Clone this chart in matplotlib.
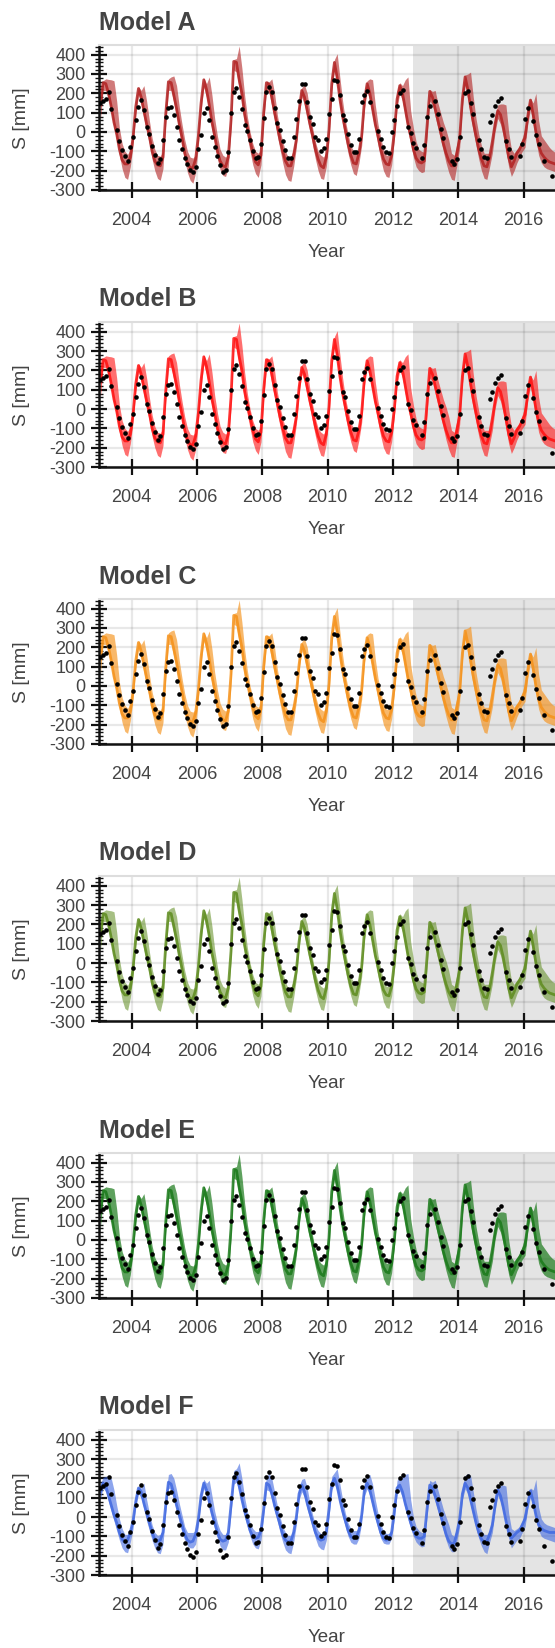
import numpy as np
import matplotlib
matplotlib.use('Agg')
import matplotlib.pyplot as plt
from matplotlib.ticker import MultipleLocator, FixedLocator

plt.rcParams['font.family'] = ['Liberation Sans', 'DejaVu Sans']
plt.rcParams['axes.unicode_minus'] = False

nan = np.nan
years = list(range(2003, 2017))

# Observed storage (black dots), one row per year (Jan..Dec)
obs_rows = [
    [148, 160, 170, 205, 120, nan, 10, -45, -95, -125, -150, -75],
    [-25, 62, 130, 168, 115, 25, -12, -72, -120, -160, -140, -42],
    [80, 123, 130, 88, 28, -42, -90, -135, -165, -195, -205, -180],
    [-86, -15, 100, 126, 62, -24, -79, -124, -170, -205, -196, -101],
    [100, 209, 227, 180, 120, 37, 7, -41, -100, -136, -128, -62],
    [71, 209, 232, 206, 123, 49, 8, -46, -93, -136, -136, -24],
    [68, 158, 247, 247, 153, 76, 40, -24, -41, -98, -84, -35],
    [95, 170, 270, 262, 192, 90, 62, -8, -65, -105, -105, -35],
    [155, 192, 210, 153, nan, nan, 7, -38, -75, -101, -108, 0],
    [63, 135, 200, 218, nan, 28, -3, -58, -84, nan, -136, -67],
    [77, 137, nan, 158, 92, 18, -32, nan, nan, -148, -168, -140],
    [-25, nan, 200, 210, 149, 94, nan, -41, -89, -127, -136, 54],
    [89, 132, 158, 175, nan, -45, -86, -131, nan, nan, -124, -60],
    [66, 123, nan, 57, -18, -60, nan, -150, nan, nan, -230, nan],
]

# Models A-E: median line and uncertainty band
line_rows = [
    [140, 255, 250, 200, 130, 50, -10, -90, -145, -165, -165, -130],
    [-30, 130, 225, 180, 110, 40, -20, -100, -150, -170, -175, -130],
    [90, 260, 255, 190, 120, 40, -30, -110, -160, -185, -185, -140],
    [-20, 150, 270, 220, 140, 50, -20, -100, -150, -175, -180, -130],
    [60, 365, 360, 270, 200, 90, 20, -40, -110, -155, -170, -120],
    [100, 255, 245, 180, 100, 30, -40, -100, -150, -175, -175, -120],
    [-40, 110, 215, 180, 110, 40, -20, -90, -140, -175, -185, -130],
    [10, 250, 360, 280, 170, 80, 10, -60, -120, -160, -165, -110],
    [-20, 160, 250, 200, 120, 40, -20, -90, -140, -165, -170, -120],
    [0, 170, 240, 200, 120, 40, -20, -90, -135, -155, -160, -150],
    [30, 210, 180, 120, 60, 0, -60, -110, -150, -175, -175, -110],
    [-30, 170, 285, 220, 130, 50, -20, -90, -140, -175, -180, -130],
    [-50, 40, 110, 90, 30, -50, -130, -180, -150, -110, -90, -60],
    [-30, 80, 165, 90, 0, -70, -110, -130, -145, -155, -160, -165],
]
upper_rows = [
    [190, 265, 275, 272, 270, 265, 160, 20, -60, -100, -115, -90],
    [10, 160, 235, 215, 240, 160, 60, -30, -90, -120, -125, -100],
    [150, 275, 285, 290, 240, 130, 40, -40, -100, -130, -135, -120],
    [30, 190, 280, 250, 285, 190, 70, -20, -90, -120, -130, -110],
    [110, 375, 380, 445, 330, 190, 80, 0, -60, -100, -110, -90],
    [150, 265, 260, 275, 200, 90, 10, -50, -100, -130, -125, -90],
    [10, 150, 230, 245, 200, 100, 20, -50, -100, -120, -130, -100],
    [60, 290, 375, 405, 280, 160, 60, -10, -70, -100, -100, -95],
    [30, 200, 265, 275, 270, 140, 40, -30, -90, -120, -120, -100],
    [50, 210, 255, 240, 270, 285, 110, 20, -50, -90, -100, -105],
    [70, 220, 210, 215, 150, 100, 50, 10, -40, -110, -120, -60],
    [20, 220, 295, 300, 310, 180, 70, -10, -70, -110, -110, -110],
    [-20, 90, 140, 145, 145, 140, 0, -90, -110, -90, -70, -30],
    [20, 130, 175, 150, 200, 60, -20, -40, -60, -80, -95, -105],
]
lower_rows = [
    [60, 215, 215, 170, 100, 20, -40, -120, -190, -235, -245, -180],
    [-70, 90, 190, 140, 70, 0, -60, -140, -200, -240, -250, -190],
    [40, 215, 215, 150, 80, 0, -70, -150, -210, -250, -265, -210],
    [-70, 110, 230, 180, 100, 10, -60, -140, -195, -225, -230, -180],
    [10, 320, 310, 220, 150, 40, -30, -100, -170, -215, -235, -170],
    [50, 215, 200, 130, 60, -20, -90, -160, -220, -250, -255, -180],
    [-80, 80, 180, 140, 70, 0, -70, -140, -200, -240, -245, -180],
    [-40, 210, 320, 240, 130, 40, -40, -110, -170, -215, -225, -160],
    [-70, 120, 210, 160, 80, 0, -70, -140, -200, -230, -235, -170],
    [-40, 130, 200, 160, 80, 0, -60, -130, -180, -200, -210, -205],
    [-30, 160, 140, 80, 20, -40, -100, -160, -210, -245, -250, -170],
    [-80, 130, 240, 170, 80, 0, -70, -140, -200, -240, -245, -180],
    [-110, 0, 70, 40, -20, -100, -180, -230, -200, -160, -130, -100],
    [-80, 40, 120, 40, -40, -120, -160, -180, -190, -195, -200, -205],
]

# Model F
line_f_rows = [
    [130, 175, 160, 110, 60, 10, -30, -80, -115, -130, -120, -80],
    [-20, 80, 150, 130, 70, 20, -30, -80, -115, -125, -120, -80],
    [60, 180, 170, 120, 60, 10, -40, -90, -120, -130, -125, -90],
    [-10, 110, 175, 140, 80, 20, -30, -80, -115, -125, -120, -80],
    [60, 200, 215, 160, 90, 30, -20, -70, -100, -110, -105, -70],
    [40, 175, 165, 120, 60, 10, -40, -90, -120, -130, -125, -80],
    [0, 120, 165, 130, 70, 20, -30, -80, -110, -120, -115, -75],
    [40, 170, 200, 160, 90, 30, -20, -70, -100, -110, -105, -70],
    [10, 140, 175, 140, 80, 20, -30, -80, -110, -120, -115, -80],
    [30, 150, 165, 130, 70, 20, -30, -70, -100, -110, -110, -100],
    [40, 165, 150, 110, 60, 10, -40, -90, -125, -140, -135, -80],
    [-10, 120, 175, 150, 90, 30, -30, -80, -115, -130, -125, -90],
    [-40, 60, 140, 110, 50, -20, -80, -110, -95, -80, -70, -40],
    [-10, 70, 135, 80, 10, -40, -60, -70, -75, -80, -80, -80],
]
upper_f_rows = [
    [170, 205, 210, 210, 200, 140, 60, -10, -60, -90, -90, -60],
    [10, 120, 160, 150, 175, 90, 20, -40, -80, -95, -90, -60],
    [110, 220, 225, 200, 140, 70, 10, -50, -80, -80, -80, -70],
    [30, 150, 195, 175, 190, 110, 30, -30, -70, -90, -90, -60],
    [100, 240, 250, 280, 200, 100, 30, -30, -60, -75, -75, -50],
    [90, 210, 225, 200, 130, 60, 0, -50, -80, -95, -95, -60],
    [40, 160, 195, 200, 150, 70, 10, -40, -70, -85, -85, -60],
    [80, 210, 230, 250, 170, 90, 20, -30, -60, -70, -70, -50],
    [50, 180, 215, 220, 170, 90, 20, -40, -70, -85, -85, -60],
    [70, 190, 210, 215, 220, 225, 90, 0, -50, -70, -80, -80],
    [90, 190, 180, 190, 140, 90, 40, 0, -40, -90, -100, -50],
    [30, 160, 215, 225, 215, 130, 40, -30, -70, -90, -90, -70],
    [0, 110, 160, 165, 165, 160, 20, -60, -70, -60, -50, -20],
    [30, 110, 150, 140, 195, 50, -10, -30, -40, -45, -50, -55],
]
lower_f_rows = [
    [90, 150, 130, 80, 30, -20, -70, -120, -160, -180, -185, -130],
    [-60, 50, 120, 100, 40, -20, -70, -120, -160, -185, -190, -140],
    [20, 150, 140, 90, 30, -30, -80, -120, -150, -160, -160, -140],
    [-50, 80, 145, 110, 50, -10, -60, -110, -150, -170, -170, -130],
    [20, 170, 180, 130, 60, 0, -50, -100, -140, -160, -165, -120],
    [0, 140, 135, 90, 30, -20, -80, -130, -170, -185, -190, -130],
    [-40, 90, 130, 100, 40, -10, -60, -110, -150, -165, -170, -120],
    [0, 140, 170, 130, 60, 0, -50, -100, -130, -140, -140, -110],
    [-30, 110, 145, 110, 50, -10, -60, -110, -135, -140, -140, -110],
    [-10, 120, 135, 100, 40, -10, -60, -100, -130, -145, -155, -150],
    [0, 135, 120, 80, 30, -20, -70, -120, -160, -180, -180, -120],
    [-50, 90, 145, 120, 60, 0, -60, -110, -150, -180, -190, -130],
    [-80, 30, 110, 80, 20, -50, -110, -160, -140, -120, -110, -80],
    [-50, 40, 105, 50, -20, -70, -100, -110, -115, -120, -125, -130],
]

model_names = ['Model A', 'Model B', 'Model C', 'Model D', 'Model E', 'Model F']
model_colors = ['#b22222', '#ff1010', '#f5921b', '#5e8c1e', '#1a7a1a', '#4169e1']
band_alphas = [0.6, 0.6, 0.65, 0.55, 0.7, 0.6]
forecast_start = 2012.6
x_ticks = [2004, 2006, 2008, 2010, 2012, 2014, 2016]


def flat(rows):
    return np.array(rows, dtype=float).ravel()


t = np.array([y + (m + 0.5) / 12.0 for y in years for m in range(12)])
obs = flat(obs_rows)
series = {
    'base': (flat(line_rows), flat(lower_rows), flat(upper_rows)),
    'f': (flat(line_f_rows), flat(lower_f_rows), flat(upper_f_rows)),
}

W, H = 555, 1648
fig = plt.figure(figsize=(W / 100, H / 100), dpi=100)
text_col = '#444444'
ax_left, ax_h, ax_top0, step = 99, 145, 45, 277.0

for k, name in enumerate(model_names):
    top = ax_top0 + k * step
    ax = fig.add_axes([ax_left / W, 1 - (top + ax_h) / H, (W - ax_left) / W, ax_h / H])
    col = model_colors[k]
    line, lo, hi = series['f'] if k == 5 else series['base']

    ax.axvspan(forecast_start, 2018, color='#e4e4e4', lw=0, zorder=0)
    ax.fill_between(t, lo, hi, color=col, alpha=band_alphas[k], lw=0, zorder=1)
    ax.plot(t, line, color=col, lw=2.0, alpha=0.85, zorder=2)
    ax.plot(t, obs, 'o', color='black', ms=3.3, mew=0, zorder=3)

    ax.set_xlim(2003.0, 2016.96)
    ax.set_ylim(-300, 450)
    ax.xaxis.set_major_locator(FixedLocator(x_ticks))
    ax.yaxis.set_major_locator(MultipleLocator(100))
    ax.yaxis.set_minor_locator(MultipleLocator(20))
    ax.set_axisbelow(True)
    ax.grid(True, which='major', color='black', alpha=0.09, lw=1.6)

    ax.tick_params(axis='x', which='major', direction='inout', length=12, width=1.6,
                   color='#111111', labelcolor=text_col, labelsize=13, pad=10)
    ax.tick_params(axis='y', which='major', direction='inout', length=11, width=1.6,
                   color='#111111', labelcolor=text_col, labelsize=13, pad=4)
    ax.tick_params(axis='y', which='minor', direction='inout', length=6, width=1.0,
                   color='#111111')

    for s in ['left', 'bottom']:
        ax.spines[s].set_color('#111111')
        ax.spines[s].set_linewidth(1.8)
    ax.spines['right'].set_visible(False)
    ax.spines['top'].set_color('#dddddd')
    ax.spines['top'].set_linewidth(1.5)

    fig.text(ax_left / W, 1 - (top - 15.5) / H, name, fontsize=18, fontweight='bold',
             color=text_col, ha='left', va='baseline')
    fig.text(22 / W, 1 - (top + 73) / H, 'S [mm]', fontsize=14, color=text_col,
             rotation=90, ha='center', va='center')
    fig.text((ax_left + W) / 2 / W, 1 - (top + ax_h + 62.5) / H, 'Year', fontsize=13.5,
             color=text_col, ha='center', va='center')

fig.savefig('out.png', dpi=100)
